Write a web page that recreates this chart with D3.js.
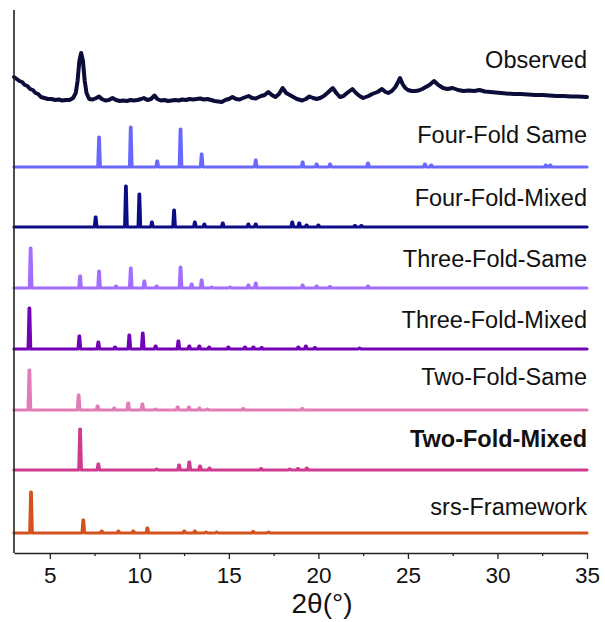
<!DOCTYPE html>
<html>
<head>
<meta charset="utf-8">
<script src="https://cdn.jsdelivr.net/npm/d3@7"></script>
<style>
  body { margin: 0; background: #fff; }
  text { font-family: "Liberation Sans", Arial, sans-serif; }
</style>
</head>
<body>
<svg id="xrd" width="605" height="622"></svg>
<script>
// series names (top to bottom) and their stacking offsets (intensity units)
var seriesNames = ["Observed", "Four-Fold Same", "Four-Fold-Mixed", "Three-Fold-Same",
                   "Three-Fold-Mixed", "Two-Fold-Same", "Two-Fold-Mixed", "srs-Framework"];
var offsets = [452, 386, 326, 265, 204, 143, 83, 20];

// observed pattern
var obsTheta = [3.0, 3.15, 3.3, 3.45, 3.6, 3.75, 3.9, 4.05, 4.2, 4.35, 4.5, 4.7, 4.9, 5.1, 5.3, 5.5, 5.7, 5.9, 6.1, 6.3,
  6.45, 6.55, 6.65, 6.75, 6.85, 6.95, 7.05, 7.2, 7.4, 7.6, 7.75, 7.9, 8.1, 8.3, 8.5, 8.7, 8.9, 9.1, 9.3, 9.5,
  9.7, 9.9, 10.1, 10.25, 10.45, 10.65, 10.85, 11.0, 11.2, 11.4, 11.6, 11.8, 12.0, 12.2, 12.4, 12.6, 12.8, 13.0, 13.2, 13.4,
  13.6, 13.8, 14.0, 14.2, 14.4, 14.6, 14.8, 15.0, 15.2, 15.4, 15.6, 15.8, 16.1, 16.3, 16.5, 16.8, 17.0, 17.2, 17.4, 17.6,
  17.8, 18.0, 18.2, 18.4, 18.6, 18.8, 19.0, 19.1, 19.3, 19.5, 19.7, 19.9, 20.1, 20.3, 20.5, 20.8, 21.0, 21.2, 21.4, 21.6,
  21.9, 22.1, 22.3, 22.5, 22.8, 23.0, 23.3, 23.55, 23.75, 23.9, 24.1, 24.3, 24.45, 24.56, 24.7, 24.85, 25.0, 25.2, 25.4, 25.6,
  25.8, 26.0, 26.2, 26.46, 26.7, 26.96, 27.2, 27.5, 27.8, 28.1, 28.4, 28.7, 29.0, 29.3, 29.6, 29.9, 30.2, 30.5, 30.9, 31.3,
  31.7, 32.1, 32.5, 32.9, 33.3, 33.7, 34.1, 34.5, 35.0];
var obsCounts = [24, 22, 20, 19, 16, 15, 12, 11, 8, 7, 4, 3, 2, 2, 1, 1.5, 0.5, 1, 1, 3,
  8, 20, 40, 48, 40, 20, 8, 2, 1.5, 3, 4.5, 2, 0.5, 1, 3, 1, 0, 0.5, 0, 1,
  0.5, 1, 2, 3, 1, 2, 5.5, 2, 0.5, 1, 0, 0.5, 1, 0.5, 1.5, 1, 2, 1.5, 2, 2.5,
  1.5, 2, 1, 0, -0.5, -1, 1, 2, 4, 2, 1.5, 3, 5, 3, 2.5, 5, 6, 9, 6, 4,
  7, 13, 8, 6, 4, 2, 1, 0.5, 2, 4.5, 3, 2, 3, 5, 8, 13, 8, 4, 5, 8,
  12, 8, 5, 3, 5, 7, 9, 12, 9, 8, 10, 14, 19, 23, 17, 13, 11, 10, 10, 10.5,
  12, 14, 16, 20, 16, 13, 12, 13, 11, 10, 10.5, 10, 11, 9.5, 9, 8.5, 8, 7.5, 7, 7,
  6.5, 6, 6, 5.5, 5, 5, 4.5, 4.5, 4];

// simulated patterns: [2theta, height]
var peaksFourSame = [[7.75, 30], [9.52, 40], [11.0, 6], [12.3, 38], [13.48, 13], [16.5, 7], [19.12, 5],
  [19.9, 3], [20.65, 3], [22.77, 4], [25.95, 3], [26.3, 2], [32.7, 2], [32.95, 2]];
var peaksFourMixed = [[7.56, 10], [9.25, 41], [10.0, 33], [10.7, 5], [11.94, 17], [13.1, 5], [13.63, 3],
  [14.66, 4], [16.09, 3], [16.5, 3], [18.54, 5], [18.93, 4], [19.34, 2], [20.0, 2], [22.04, 1.5], [22.4, 1.5]];
var peaksThreeSame = [[3.93, 40], [6.69, 12], [7.75, 17], [8.7, 2], [9.52, 20], [10.28, 7], [10.97, 2],
  [12.3, 21], [12.92, 4], [13.48, 8], [14.04, 1], [15.06, 1], [16.09, 3], [16.5, 5], [19.12, 3], [19.9, 2],
  [20.65, 1.5], [22.77, 2]];
var peaksThreeMixed = [[3.86, 41], [6.65, 13], [7.71, 7], [8.64, 2], [9.44, 14], [10.19, 16], [10.91, 3],
  [12.18, 8], [12.79, 3], [13.35, 3], [13.9, 2], [14.97, 2], [15.9, 2], [16.37, 2], [16.83, 1.5], [18.88, 2],
  [19.3, 3], [19.8, 1.5], [22.3, 1]];
var peaksTwoSame = [[3.86, 40], [6.61, 15], [7.67, 4], [8.6, 2], [9.38, 7], [10.17, 6], [10.9, 1],
  [12.14, 3], [12.77, 3], [13.35, 2], [13.8, 1], [15.8, 1.5], [19.1, 1.5]];
var peaksTwoMixed = [[6.69, 41], [7.71, 6], [10.97, 1], [12.22, 5], [12.79, 8], [13.39, 4], [13.92, 2],
  [16.8, 1.5], [18.4, 1], [18.86, 1.5], [19.35, 2]];
var peaksSrs = [[3.95, 41], [6.87, 13], [7.9, 2], [8.83, 2], [9.66, 2], [10.45, 5], [12.51, 2], [13.1, 2],
  [13.72, 1], [14.32, 1], [16.36, 1.5], [17.22, 1]];

var xMajor = [5, 10, 15, 20, 25, 30, 35];
var xMinor = [7.5, 12.5, 17.5, 22.5, 27.5, 32.5];

// layout
var colors = ["#0c0c38", "#6868ff", "#0c0c86", "#a36dff", "#7302b5", "#e27cb8", "#cd3b8f", "#d4521e"];
var labelY = [68, 143, 206, 267, 328, 385, 447, 515];

var margin = {top: 10, right: 18, bottom: 69, left: 14},
    width = 605 - margin.left - margin.right,
    height = 622 - margin.top - margin.bottom;

var xScale = d3.scaleLinear()
    .domain([3, 35])
    .range([0, width]);

var yScale = d3.scaleLinear()
    .domain([0, height])
    .range([height, 0]);

var svg = d3.select("#xrd")
  .append("g")
    .attr("transform", "translate(" + margin.left + "," + margin.top + ")");

// turn a peak list into a line: flat baseline with a narrow spike per peak
function peakPoints(peaks){
  var pts = [[3, 0]];
  peaks.forEach(function(p){
    pts.push([p[0] - 0.07, 0]);
    pts.push([p[0] - 0.015, p[1]]);
    pts.push([p[0] + 0.015, p[1]]);
    pts.push([p[0] + 0.07, 0]);
  });
  pts.push([35, 0]);
  return pts;
}

var allSeries = [
  obsTheta.map(function(t, i){ return [t, obsCounts[i]]; }),
  peakPoints(peaksFourSame),
  peakPoints(peaksFourMixed),
  peakPoints(peaksThreeSame),
  peakPoints(peaksThreeMixed),
  peakPoints(peaksTwoSame),
  peakPoints(peaksTwoMixed),
  peakPoints(peaksSrs)
];

allSeries.forEach(function(pts, i){
  var line = d3.line()
      .x(function(d){ return xScale(d[0]); })
      .y(function(d){ return yScale(d[1] + offsets[i]); });

  svg.append("path")
    .datum(pts)
    .attr("fill", "none")
    .attr("stroke", colors[i])
    .attr("stroke-width", i == 0 ? 4 : 3.2)
    .attr("stroke-linejoin", "round")
    .attr("stroke-linecap", "round")
    .attr("d", line);

  svg.append("text")
    .attr("x", width)
    .attr("y", labelY[i] - margin.top)
    .attr("text-anchor", "end")
    .attr("font-size", "23.5px")
    .attr("font-weight", seriesNames[i] == "Two-Fold-Mixed" ? "bold" : "normal")
    .attr("fill", "#111")
    .text(seriesNames[i]);
});

// axes
var xAxis = d3.axisBottom(xScale)
    .tickValues(xMajor)
    .tickSize(6)
    .tickSizeOuter(0)
    .tickPadding(8);

var xAxisMinor = d3.axisBottom(xScale)
    .tickValues(xMinor)
    .tickSize(3)
    .tickSizeOuter(0)
    .tickFormat("");

svg.append("g")
    .attr("transform", "translate(0," + height + ")")
    .call(xAxisMinor)
    .call(function(g){ g.select(".domain").remove(); })
    .selectAll("line")
    .attr("stroke", "#222")
    .attr("stroke-width", 1.3);

var gx = svg.append("g")
    .attr("transform", "translate(0," + height + ")")
    .call(xAxis);

gx.select(".domain").attr("stroke", "#222").attr("stroke-width", 1.6);
gx.selectAll(".tick line").attr("stroke", "#222").attr("stroke-width", 1.3);
gx.selectAll("text")
    .attr("fill", "#111")
    .style("font-family", "Liberation Sans, Arial, sans-serif")
    .style("font-size", "22.5px");

svg.append("line")
    .attr("x1", 0)
    .attr("x2", 0)
    .attr("y1", 0)
    .attr("y2", height)
    .attr("stroke", "#222")
    .attr("stroke-width", 1.6);

svg.append("text")
    .attr("x", 308)
    .attr("y", 613 - margin.top)
    .attr("text-anchor", "middle")
    .attr("font-size", "28px")
    .attr("fill", "#111")
    .text("2θ(°)");
</script>
</body>
</html>
